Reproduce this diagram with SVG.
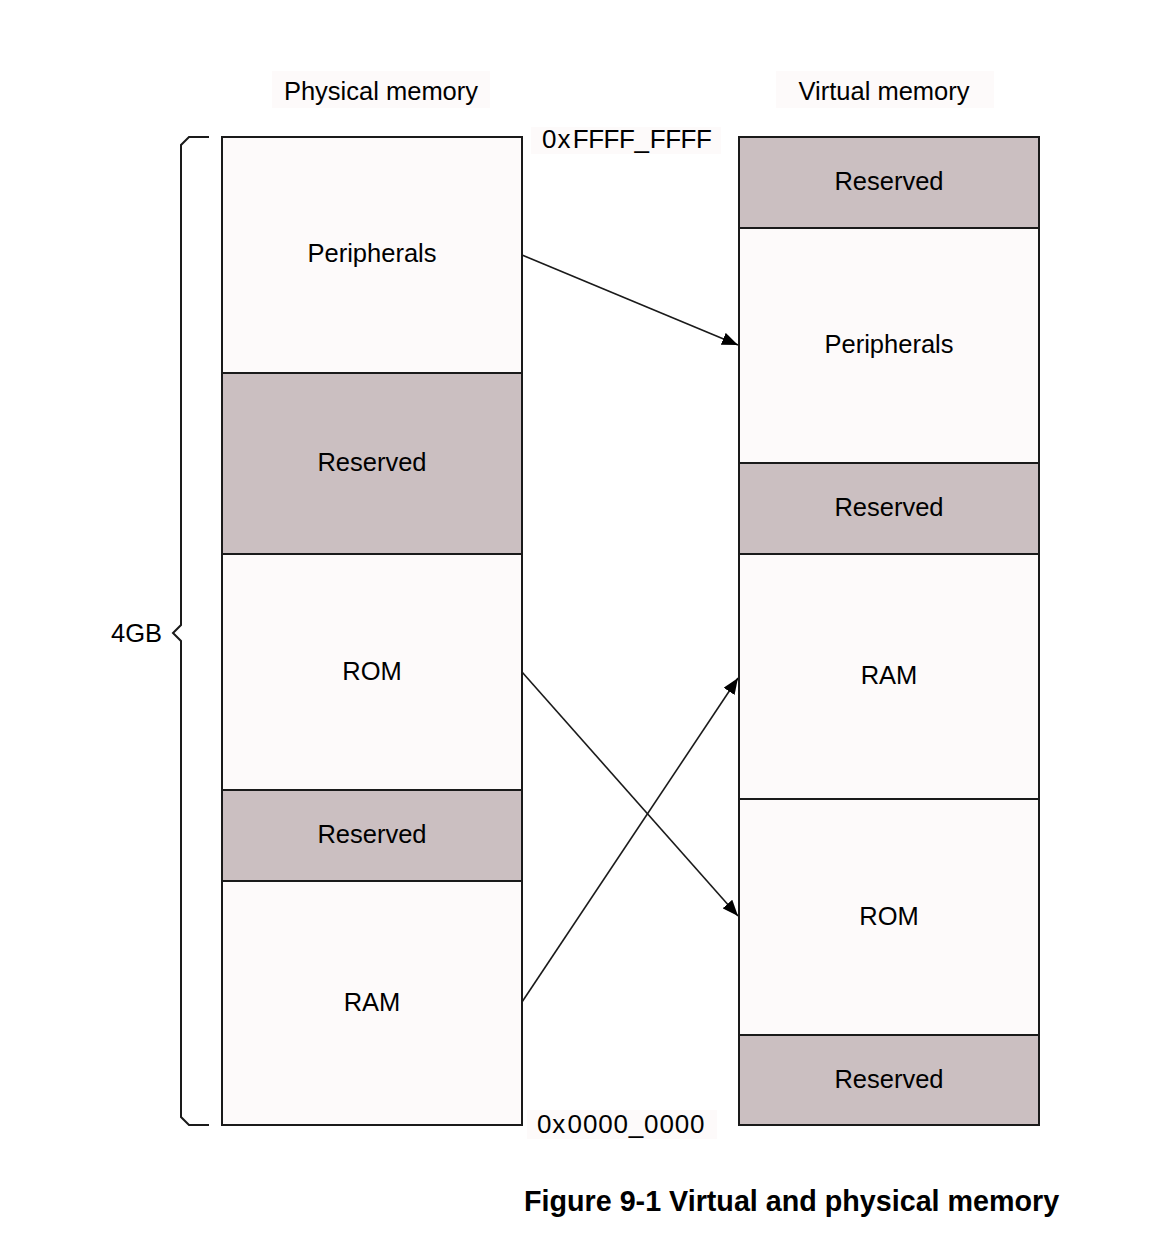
<svg xmlns="http://www.w3.org/2000/svg" width="1150" height="1238" viewBox="0 0 1150 1238">
<style>
.seg{fill:#fdfafa;stroke:#1a1a1a;stroke-width:2}
.res{fill:#cbbfc1;stroke:#1a1a1a;stroke-width:2}
.lbl{font-family:"Liberation Sans",Arial,sans-serif;font-size:25.5px;fill:#000;text-anchor:middle}
.hex{font-family:"Liberation Sans",Arial,sans-serif;font-size:26px;fill:#000}
.bg{fill:#fdfafa;stroke:none}
.conn{stroke:#1a1a1a;stroke-width:1.6;fill:none}
</style>
<defs>
<marker id="ah" markerUnits="userSpaceOnUse" markerWidth="17" markerHeight="13" refX="16" refY="6.5" orient="auto">
<path d="M0,0 L16,6.5 L0,13 z" fill="#000"/>
</marker>
</defs>
<rect width="1150" height="1238" fill="#fff"/>

<g id="titles">
<rect class="bg" x="272" y="71" width="218" height="37"/>
<text class="lbl" x="381" y="100">Physical memory</text>
<rect class="bg" x="776" y="71" width="218" height="37"/>
<text class="lbl" x="884" y="100">Virtual memory</text>
<rect class="bg" x="531" y="127" width="190" height="27"/>
<text class="hex" x="542 557.4 572.8 588.2 603.6 619 634.4 649.8 665.2 680.6 696" y="148">0xFFFF_FFFF</text>
<rect class="bg" x="527" y="1110" width="190" height="29"/>
<text class="hex" x="537 552.3 567.6 582.9 598.2 613.5 628.8 644.1 659.4 674.7 690" y="1133">0x0000_0000</text>
</g>

<g id="brace">
<path d="M209,137 L189,137 L181,145 L181,625 L173,633 L181,641 L181,1117 L189,1125 L209,1125" fill="none" stroke="#1a1a1a" stroke-width="2"/>
<text class="lbl" x="162" y="642" style="text-anchor:end">4GB</text>
</g>

<g id="phys-peripherals"><rect class="seg" x="222" y="137" width="300" height="236"/><text class="lbl" x="372" y="262">Peripherals</text></g>
<g id="phys-reserved1"><rect class="res" x="222" y="373" width="300" height="181"/><text class="lbl" x="372" y="471">Reserved</text></g>
<g id="phys-rom"><rect class="seg" x="222" y="554" width="300" height="236"/><text class="lbl" x="372" y="680">ROM</text></g>
<g id="phys-reserved2"><rect class="res" x="222" y="790" width="300" height="91"/><text class="lbl" x="372" y="843">Reserved</text></g>
<g id="phys-ram"><rect class="seg" x="222" y="881" width="300" height="244"/><text class="lbl" x="372" y="1011">RAM</text></g>

<g id="virt-reserved1"><rect class="res" x="739" y="137" width="300" height="91"/><text class="lbl" x="889" y="190">Reserved</text></g>
<g id="virt-peripherals"><rect class="seg" x="739" y="228" width="300" height="235"/><text class="lbl" x="889" y="353">Peripherals</text></g>
<g id="virt-reserved2"><rect class="res" x="739" y="463" width="300" height="91"/><text class="lbl" x="889" y="516">Reserved</text></g>
<g id="virt-ram"><rect class="seg" x="739" y="554" width="300" height="245"/><text class="lbl" x="889" y="684">RAM</text></g>
<g id="virt-rom"><rect class="seg" x="739" y="799" width="300" height="236"/><text class="lbl" x="889" y="925">ROM</text></g>
<g id="virt-reserved3"><rect class="res" x="739" y="1035" width="300" height="90"/><text class="lbl" x="889" y="1088">Reserved</text></g>

<g id="connectors">
<line class="conn" x1="522" y1="255" x2="738" y2="345" marker-end="url(#ah)"/>
<line class="conn" x1="522" y1="672" x2="738" y2="916" marker-end="url(#ah)"/>
<line class="conn" x1="522" y1="1002" x2="738" y2="678" marker-end="url(#ah)"/>
</g>

<text id="caption" x="524" y="1211" style="font-family:'Liberation Sans',Arial,sans-serif;font-size:28.7px;font-weight:bold;fill:#000">Figure 9-1 Virtual and physical memory</text>
</svg>
